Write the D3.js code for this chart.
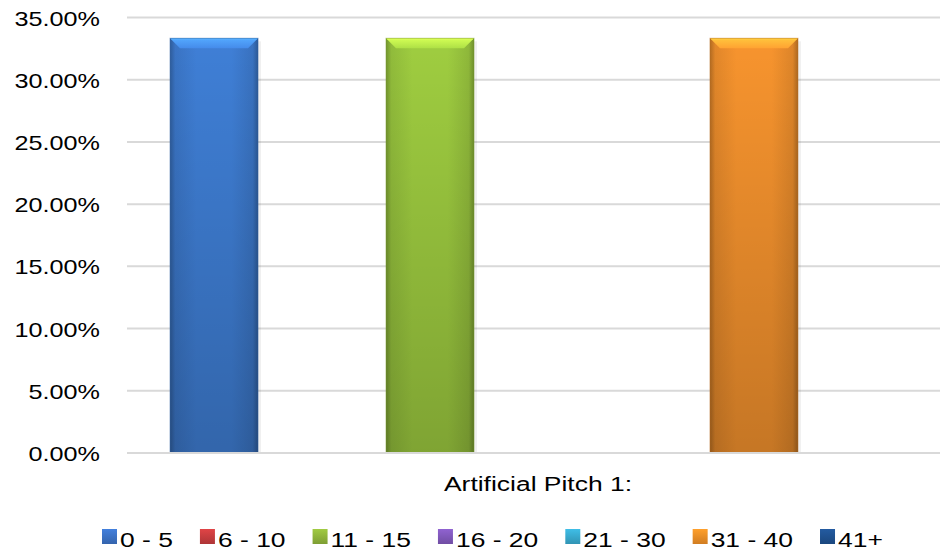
<!DOCTYPE html>
<html><head><meta charset="utf-8">
<script src="https://cdn.jsdelivr.net/npm/d3@7"></script>
<style>
html,body{margin:0;padding:0;background:#fff;}
text{font-family:"Liberation Sans",Arial,Helvetica,sans-serif;fill:#000;}
</style></head>
<body>
<svg id="chart" width="940" height="554"></svg>
<script>
const categories = ["Artificial Pitch 1:"];
const seriesNames = ["0 - 5","6 - 10","11 - 15","16 - 20","21 - 30","31 - 40","41+"];
const seriesValues = [0.3333, 0, 0.3333, 0, 0, 0.3333, 0];
const yTicks = [0,0.05,0.10,0.15,0.20,0.25,0.30,0.35];
const barColors = ["#3f7fd6","#c0504d","#9fcd40","#8064a2","#4bacc6","#f7942e","#1f497d"];
const legendColors = ["#3a6fc0","#c23b3d","#8cb03a","#7d56b5","#37a5c8","#e98b26","#1e4f8c"];

const W = 940, H = 554, SX = 1.26;
const plot = {left:127, right:949, top:17.5, bottom:453};
const svg = d3.select("#chart");
const defs = svg.append("defs");

const y = d3.scaleLinear().domain([0,0.35]).range([plot.bottom, plot.top]);
const x0 = d3.scaleBand().domain(categories).range([plot.left, plot.right]).paddingInner(0).paddingOuter(0.0437);
const x1 = d3.scaleBand().domain(seriesNames).range([0, x0.bandwidth()]).paddingInner(0.185).paddingOuter(0.0925);

// gridlines
svg.append("g").selectAll("line").data(yTicks).join("line")
  .attr("x1", plot.left).attr("x2", W + 20)
  .attr("y1", d => y(d)).attr("y2", d => y(d))
  .attr("stroke", "#d9d9d9").attr("stroke-width", 2);

// y axis labels
const yAxis = svg.append("g").attr("transform", `translate(${plot.left},0)`)
  .call(d3.axisLeft(y).tickValues(yTicks).tickFormat(d3.format(".2%")).tickSize(0).tickPadding(27));
yAxis.select(".domain").remove();
yAxis.selectAll("text")
  .attr("font-size", 20).attr("font-family", '"Liberation Sans",Arial,sans-serif').attr("fill","#000")
  .attr("x", -27 / SX).attr("dy", "0.38em")
  .attr("transform", `scale(${SX},1)`);

// gradients per series
seriesNames.forEach((s, i) => {
  const c = d3.color(barColors[i]);
  const gh = defs.append("linearGradient").attr("id", "gh" + i).attr("x1","0").attr("x2","1").attr("y1","0").attr("y2","0");
  gh.append("stop").attr("offset","0").attr("stop-color", c.darker(0.9));
  gh.append("stop").attr("offset","0.06").attr("stop-color", c.darker(0.25));
  gh.append("stop").attr("offset","0.3").attr("stop-color", c);
  gh.append("stop").attr("offset","0.7").attr("stop-color", c);
  gh.append("stop").attr("offset","0.94").attr("stop-color", c.darker(0.3));
  gh.append("stop").attr("offset","1").attr("stop-color", c.darker(1.0));
  const gv = defs.append("linearGradient").attr("id", "gv" + i).attr("x1","0").attr("x2","0").attr("y1","0").attr("y2","1");
  gv.append("stop").attr("offset","0").attr("stop-color","#000").attr("stop-opacity",0);
  gv.append("stop").attr("offset","1").attr("stop-color","#000").attr("stop-opacity",0.2);
  const gt = defs.append("linearGradient").attr("id", "gt" + i).attr("x1","0").attr("x2","0").attr("y1","0").attr("y2","1");
  gt.append("stop").attr("offset","0").attr("stop-color", c.brighter(0.8));
  gt.append("stop").attr("offset","1").attr("stop-color", c.brighter(0.25));
});

// bars
const bars = svg.append("g");
categories.forEach(cat => {
  seriesNames.forEach((s, i) => {
    const v = seriesValues[i];
    if (!(v > 0)) return;
    const bx = x0(cat) + x1(s), bw = x1.bandwidth();
    const by = y(v), bh = y(0) - y(v);
    const g = bars.append("g");
    g.append("rect").attr("x", bx + 3).attr("y", by + 3).attr("width", bw).attr("height", bh - 3).attr("fill", "#000").attr("opacity", 0.06);
    g.append("rect").attr("x", bx).attr("y", by).attr("width", bw).attr("height", bh).attr("fill", `url(#gh${i})`);
    g.append("rect").attr("x", bx).attr("y", by).attr("width", bw).attr("height", bh).attr("fill", `url(#gv${i})`);
    const b = 10;
    g.append("path").attr("d", `M${bx},${by}L${bx+bw},${by}L${bx+bw-b},${by+b}L${bx+b},${by+b}Z`).attr("fill", `url(#gt${i})`);
    g.append("line").attr("x1", bx+1).attr("x2", bx+bw-1).attr("y1", by+0.5).attr("y2", by+0.5).attr("stroke", d3.color(barColors[i]).brighter(1.1)).attr("stroke-width",1);
    g.append("rect").attr("x", bx).attr("y", by).attr("width", bw).attr("height", bh).attr("fill","none").attr("stroke", d3.color(barColors[i]).darker(0.8)).attr("stroke-opacity",0.5).attr("stroke-width",1);
  });
});

// baseline
svg.append("line").attr("x1", plot.left).attr("x2", W + 20).attr("y1", y(0)).attr("y2", y(0))
  .attr("stroke", "#d9d9d9").attr("stroke-width", 2);

// category label
svg.append("g").selectAll("text").data(categories).join("text")
  .attr("transform", d => `translate(${x0(d) + x0.bandwidth()/2},491) scale(${SX},1)`)
  .attr("text-anchor","middle").attr("font-size",21).text(d => d);

// legend
const leg = svg.append("g");
let lx = 102;
seriesNames.forEach((s, i) => {
  const c = d3.color(legendColors[i]);
  const lg = defs.append("linearGradient").attr("id","lg"+i).attr("x1","0").attr("x2","0").attr("y1","0").attr("y2","1");
  lg.append("stop").attr("offset","0").attr("stop-color", c.brighter(0.4));
  lg.append("stop").attr("offset","1").attr("stop-color", c.darker(0.3));
  leg.append("rect").attr("x", lx).attr("y", 529).attr("width", 15).attr("height", 15).attr("fill", `url(#lg${i})`);
  const t = leg.append("text").attr("transform", `translate(${lx + 18},547) scale(${SX},1)`).attr("font-size",21).text(s);
  const w = t.node().getComputedTextLength() * SX;
  lx += 18 + w + 27;
});
</script>
</body></html>
